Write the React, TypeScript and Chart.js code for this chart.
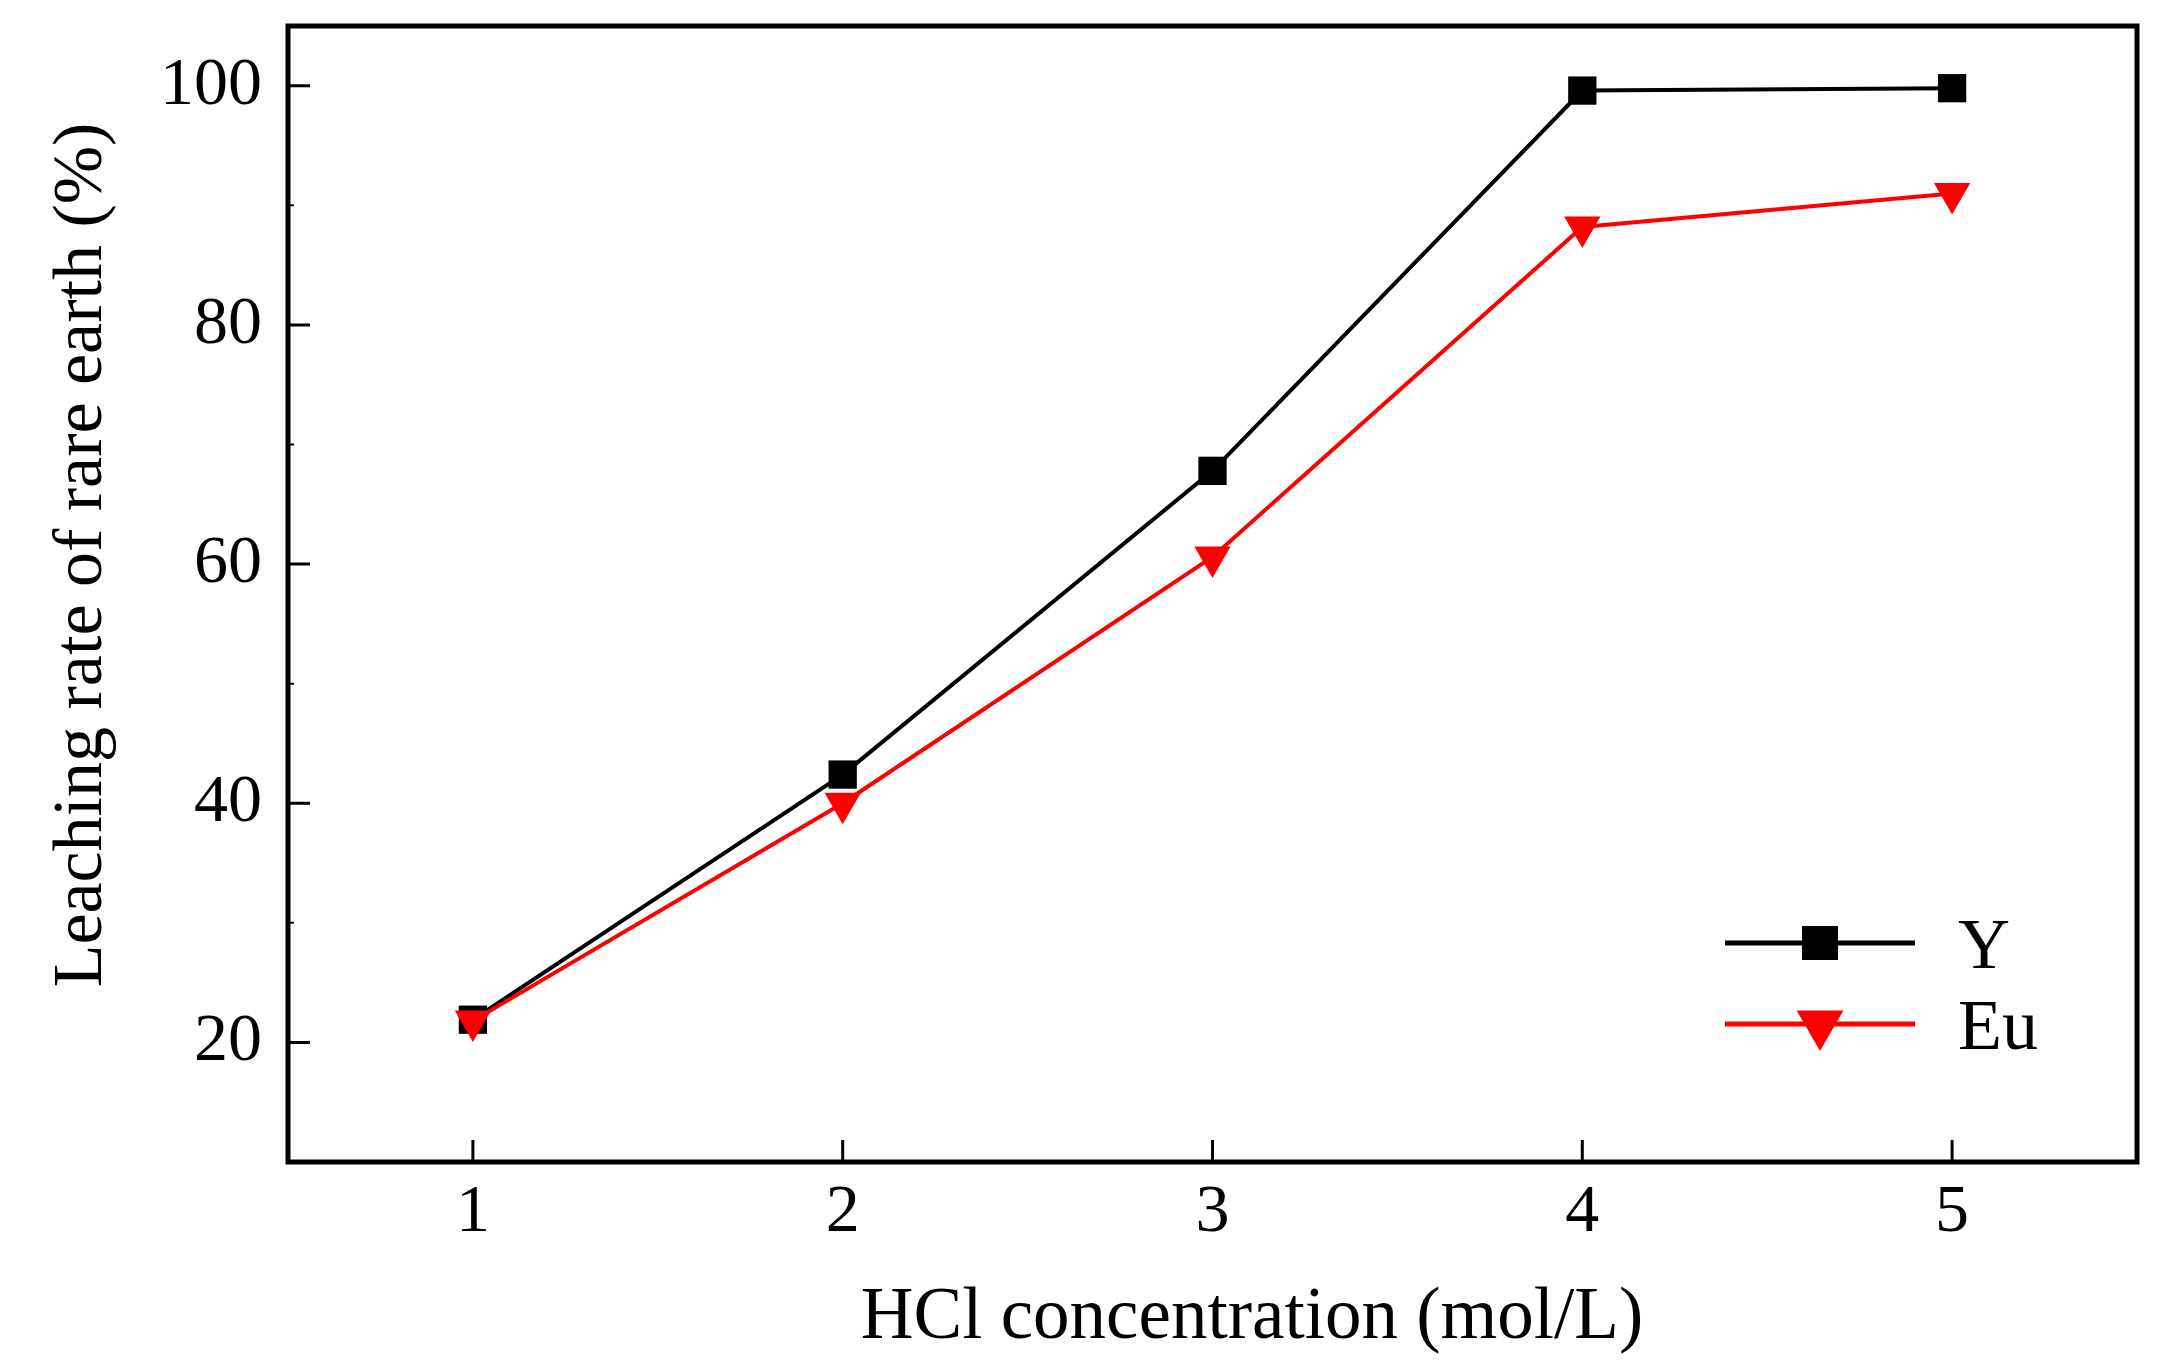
import { useEffect, useRef } from 'react';
import { Chart, registerables } from 'chart.js';

Chart.register(...registerables);

const concentrations = [1, 2, 3, 4, 5];
const yttriumRates = [21.9, 42.4, 67.8, 99.6, 99.8];
const europiumRates = [21.8, 40.0, 60.6, 88.2, 91.0];
const seriesNames = ['Y', 'Eu'];
const xTicks = [1, 2, 3, 4, 5];
const yTicks = [20, 40, 60, 80, 100];
const yMinorTicks = [30, 50, 70, 90];
const xTitle = 'HCl concentration (mol/L)';
const yTitle = 'Leaching rate of rare earth (%)';

const FONT = '"Liberation Serif", "Times New Roman", serif';

// Frame, inward ticks, axis titles and the inset legend (Origin style)
const framePlugin = {
  id: 'frame',
  afterDraw(chart: any) {
    const { ctx, chartArea: a, scales } = chart;
    const xs = scales.x;
    const ys = scales.y;
    ctx.save();
    ctx.strokeStyle = '#000';
    ctx.lineWidth = 5;
    ctx.strokeRect(a.left, a.top, a.right - a.left, a.bottom - a.top);

    ctx.lineWidth = 3;
    ctx.beginPath();
    xs.ticks.forEach((t: any) => {
      const px = xs.getPixelForValue(t.value);
      ctx.moveTo(px, a.bottom);
      ctx.lineTo(px, a.bottom - 22);
    });
    ys.ticks.forEach((t: any) => {
      const py = ys.getPixelForValue(t.value);
      ctx.moveTo(a.left, py);
      ctx.lineTo(a.left + 22, py);
    });
    ctx.stroke();

    ctx.lineWidth = 2;
    ctx.beginPath();
    yMinorTicks.forEach(v => {
      const py = ys.getPixelForValue(v);
      ctx.moveTo(a.left, py);
      ctx.lineTo(a.left + 6, py);
    });
    ctx.stroke();

    // axis titles
    ctx.fillStyle = '#000';
    ctx.font = `73px ${FONT}`;
    ctx.textAlign = 'center';
    ctx.textBaseline = 'alphabetic';
    ctx.fillText(xTitle, 1252, 1338);

    ctx.save();
    ctx.translate(83, 555);
    ctx.rotate(-Math.PI / 2);
    ctx.font = `70px ${FONT}`;
    ctx.textBaseline = 'middle';
    ctx.fillText(yTitle, 0, 0);
    ctx.restore();

    // legend
    const rows = [943, 1024];
    chart.data.datasets.forEach((ds: any, i: number) => {
      const y = rows[i];
      ctx.strokeStyle = ds.borderColor;
      ctx.fillStyle = ds.borderColor;
      ctx.lineWidth = 5;
      ctx.beginPath();
      ctx.moveTo(1725, y);
      ctx.lineTo(1915, y);
      ctx.stroke();
      const cx = 1820;
      if (ds.pointStyle === 'rect') {
        ctx.fillRect(cx - 18, y - 17, 36, 34);
      } else {
        const r = 27;
        ctx.beginPath();
        ctx.moveTo(cx - r * 0.866, y - r / 2);
        ctx.lineTo(cx + r * 0.866, y - r / 2);
        ctx.lineTo(cx, y + r);
        ctx.closePath();
        ctx.fill();
      }
      ctx.fillStyle = '#000';
      ctx.font = `72px ${FONT}`;
      ctx.textAlign = 'left';
      ctx.textBaseline = 'alphabetic';
      ctx.fillText(ds.label, 1958, y + 25);
    });
    ctx.restore();
  }
};

export default function App() {
  const canvasRef = useRef<HTMLCanvasElement | null>(null);
  const chartRef = useRef<Chart | null>(null);

  useEffect(() => {
    document.body.style.margin = '0';
    if (!canvasRef.current) return;
    if (chartRef.current) chartRef.current.destroy();

    const config: any = {
      type: 'line',
      data: {
        datasets: [
          {
            label: seriesNames[0],
            data: concentrations.map((x, i) => ({ x, y: yttriumRates[i] })),
            borderColor: '#000000',
            backgroundColor: '#000000',
            borderWidth: 4,
            pointStyle: 'rect',
            pointRadius: 20,
            pointBorderWidth: 0,
            order: 1
          },
          {
            label: seriesNames[1],
            data: concentrations.map((x, i) => ({ x, y: europiumRates[i] })),
            borderColor: '#ff0000',
            backgroundColor: '#ff0000',
            borderWidth: 4,
            pointStyle: 'triangle',
            rotation: 180,
            pointRadius: 21,
            pointBorderWidth: 0,
            order: 0
          }
        ]
      },
      options: {
        animation: false,
        responsive: true,
        maintainAspectRatio: false,
        devicePixelRatio: 1,
        layout: { padding: { top: 26, right: 29, left: 0, bottom: 0 } },
        plugins: {
          legend: { display: false },
          tooltip: { enabled: false }
        },
        scales: {
          x: {
            type: 'linear',
            min: 0.5,
            max: 5.5,
            afterBuildTicks: (scale: any) => {
              scale.ticks = xTicks.map(value => ({ value }));
            },
            afterFit: (scale: any) => {
              scale.height = 209;
              scale.paddingLeft = 0;
              scale.paddingRight = 0;
            },
            grid: { display: false, drawTicks: false },
            border: { display: false },
            ticks: {
              color: '#000',
              padding: 10,
              font: { family: FONT, size: 68 }
            }
          },
          y: {
            type: 'linear',
            min: 10,
            max: 105,
            afterBuildTicks: (scale: any) => {
              scale.ticks = yTicks.map(value => ({ value }));
            },
            afterFit: (scale: any) => {
              scale.width = 288;
              scale.paddingTop = 0;
              scale.paddingBottom = 0;
            },
            grid: { display: false, drawTicks: false },
            border: { display: false },
            ticks: {
              color: '#000',
              padding: 26,
              font: { family: FONT, size: 68 }
            }
          }
        }
      },
      plugins: [framePlugin]
    };

    chartRef.current = new Chart(canvasRef.current, config);
    return () => {
      if (chartRef.current) {
        chartRef.current.destroy();
        chartRef.current = null;
      }
    };
  }, []);

  return (
    <div style={{ position: 'absolute', left: 0, top: 0, width: 2166, height: 1371, background: '#fff' }}>
      <canvas ref={canvasRef} />
    </div>
  );
}
